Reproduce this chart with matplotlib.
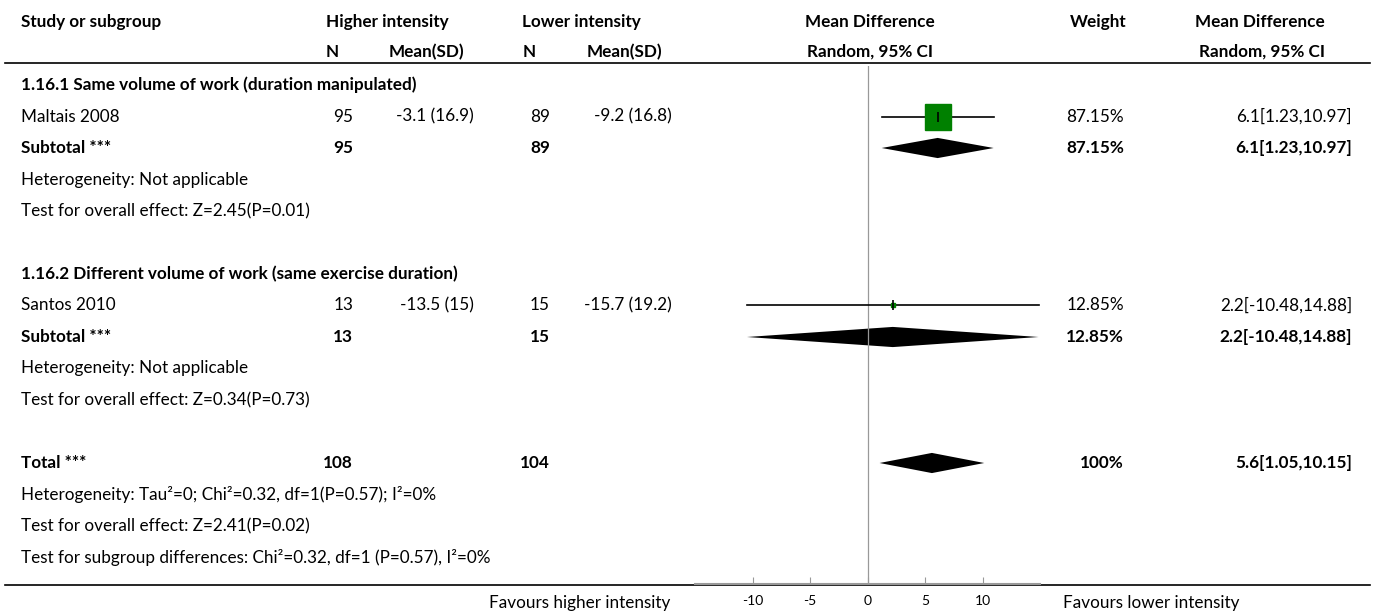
import matplotlib
matplotlib.use("Agg")
import matplotlib.pyplot as plt
from matplotlib.patches import Polygon

plt.rcParams['font.family'] = ['Lato', 'DejaVu Sans']

# data
groups = ["1.16.1 Same volume of work (duration manipulated)",
          "1.16.2 Different volume of work (same exercise duration)"]
studies = ["Maltais 2008", "Santos 2010"]
n_hi = [95, 13]
mean_hi = ["-3.1 (16.9)", "-13.5 (15)"]
n_lo = [89, 15]
mean_lo = ["-9.2 (16.8)", "-15.7 (19.2)"]
md = [6.1, 2.2]
ci_lo = [1.23, -10.48]
ci_hi = [10.97, 14.88]
weight = [87.15, 12.85]

sub_md = [6.1, 2.2]
sub_lo = [1.23, -10.48]
sub_hi = [10.97, 14.88]
sub_weight = [87.15, 12.85]
sub_het = ["Heterogeneity: Not applicable", "Heterogeneity: Not applicable"]
sub_test = ["Test for overall effect: Z=2.45(P=0.01)", "Test for overall effect: Z=0.34(P=0.73)"]

tot_n_hi = 108
tot_n_lo = 104
tot_md = 5.6
tot_lo = 1.05
tot_hi = 10.15
tot_weight = "100%"
tot_lines = ["Heterogeneity: Tau\u00b2=0; Chi\u00b2=0.32, df=1(P=0.57); I\u00b2=0%",
             "Test for overall effect: Z=2.41(P=0.02)",
             "Test for subgroup differences: Chi\u00b2=0.32, df=1 (P=0.57), I\u00b2=0%"]

ticks = [-10, -5, 0, 5, 10]
xlim = (-15, 15)

# layout (pixels of a 1375x615 canvas, row = 31.5 px starting at y=85)
W, H = 1375, 615
fs = 12.3
fsb = 12.3
green = "#008000"

fig = plt.figure(figsize=(W / 100, H / 100), dpi=100)
ax = fig.add_axes([0, 0, 1, 1])
ax.set_xlim(0, W)
ax.set_ylim((H - 85) / 31.5, -85 / 31.5)
ax.axis("off")

def row_y(px):
    return (px - 85) / 31.5

x_study = 21
x_nhi, x_mhi, x_nlo, x_mlo = 353, 474, 550, 672
x_w, x_ci = 1124, 1352

# headers
hb = dict(fontsize=fsb, fontweight="bold", va="center")
ax.text(x_study, row_y(22), "Study or subgroup", ha="left", **hb)
ax.text(326, row_y(22), "Higher intensity", ha="left", **hb)
ax.text(522, row_y(22), "Lower intensity", ha="left", **hb)
ax.text(326, row_y(52), "N", ha="left", **hb)
ax.text(389, row_y(52), "Mean(SD)", ha="left", **hb)
ax.text(523, row_y(52), "N", ha="left", **hb)
ax.text(587, row_y(52), "Mean(SD)", ha="left", **hb)
ax.text(870, row_y(22), "Mean Difference", ha="center", **hb)
ax.text(870, row_y(52), "Random, 95% CI", ha="center", **hb)
ax.text(1126, row_y(22), "Weight", ha="right", **hb)
ax.text(1325, row_y(22), "Mean Difference", ha="right", **hb)
ax.text(1325, row_y(52), "Random, 95% CI", ha="right", **hb)
ax.plot([5, 1370], [row_y(63), row_y(63)], color="black", lw=1.2)
ax.plot([5, 1370], [row_y(585), row_y(585)], color="black", lw=1.2)

# forest panel
fx = fig.add_axes([695 / W, (H - 584) / H, 345 / W, (584 - 66) / H])
fx.set_xlim(*xlim)
fx.set_ylim(row_y(584), row_y(66))
for s in ["top", "left", "right"]:
    fx.spines[s].set_visible(False)
fx.spines["bottom"].set_color("#999999")
fx.spines["bottom"].set_linewidth(1.5)
fx.set_yticks([])
fx.set_xticks(ticks)
fx.set_xticklabels([str(t) for t in ticks])
fx.tick_params(axis="x", direction="in", length=5, color="#999999", labelsize=10, pad=8)
fx.axvline(0, color="#999999", lw=0.9)
fx.patch.set_alpha(0)

def diamond(y, est, lo, hi, h=0.32):
    fx.add_patch(Polygon([[lo, y], [est, y - h], [hi, y], [est, y + h]],
                         closed=True, color="black", lw=0))

r = 0
for g in range(2):
    ax.text(x_study, r, groups[g], ha="left", va="center", fontsize=fsb, fontweight="bold")
    r += 1
    # study row
    ax.text(x_study, r, studies[g], ha="left", va="center", fontsize=fs)
    ax.text(x_nhi, r, str(n_hi[g]), ha="right", va="center", fontsize=fs)
    ax.text(x_mhi, r, mean_hi[g], ha="right", va="center", fontsize=fs)
    ax.text(x_nlo, r, str(n_lo[g]), ha="right", va="center", fontsize=fs)
    ax.text(x_mlo, r, mean_lo[g], ha="right", va="center", fontsize=fs)
    ax.text(x_w, r, "%.2f%%" % weight[g], ha="right", va="center", fontsize=fs)
    ax.text(x_ci, r, "%s[%s,%s]" % (md[g], ci_lo[g], ci_hi[g]), ha="right", va="center", fontsize=fs)
    fx.plot([ci_lo[g], ci_hi[g]], [r, r], color="black", lw=1.2, zorder=2)
    side = 0.3 * weight[g] * 0.72  # px -> pt
    fx.plot([md[g]], [r], marker="s", ms=side, color=green, mec=green, lw=0, zorder=3)
    fx.plot([md[g]], [r], marker="|", ms=7, color="black", mew=1.2, zorder=4)
    r += 1
    # subtotal
    ax.text(x_study, r, "Subtotal ***", ha="left", va="center", fontsize=fsb, fontweight="bold")
    ax.text(x_nhi, r, str(n_hi[g]), ha="right", va="center", fontsize=fsb, fontweight="bold")
    ax.text(x_nlo, r, str(n_lo[g]), ha="right", va="center", fontsize=fsb, fontweight="bold")
    ax.text(x_w, r, "%.2f%%" % sub_weight[g], ha="right", va="center", fontsize=fsb, fontweight="bold")
    ax.text(x_ci, r, "%s[%s,%s]" % (sub_md[g], sub_lo[g], sub_hi[g]), ha="right", va="center",
            fontsize=fsb, fontweight="bold")
    diamond(r, sub_md[g], sub_lo[g], sub_hi[g])
    r += 1
    ax.text(x_study, r, sub_het[g], ha="left", va="center", fontsize=fs)
    r += 1
    ax.text(x_study, r, sub_test[g], ha="left", va="center", fontsize=fs)
    r += 2

ax.text(x_study, r, "Total ***", ha="left", va="center", fontsize=fsb, fontweight="bold")
ax.text(x_nhi, r, str(tot_n_hi), ha="right", va="center", fontsize=fsb, fontweight="bold")
ax.text(x_nlo, r, str(tot_n_lo), ha="right", va="center", fontsize=fsb, fontweight="bold")
ax.text(x_w, r, tot_weight, ha="right", va="center", fontsize=fsb, fontweight="bold")
ax.text(x_ci, r, "%s[%s,%s]" % (tot_md, tot_lo, tot_hi), ha="right", va="center",
        fontsize=fsb, fontweight="bold")
diamond(r, tot_md, tot_lo, tot_hi)
for line in tot_lines:
    r += 1
    ax.text(x_study, r, line, ha="left", va="center", fontsize=fs)

ax.text(670, row_y(603), "Favours higher intensity", ha="right", va="center", fontsize=fs)
ax.text(1063, row_y(603), "Favours lower intensity", ha="left", va="center", fontsize=fs)

fig.savefig("out.png", dpi=100)
